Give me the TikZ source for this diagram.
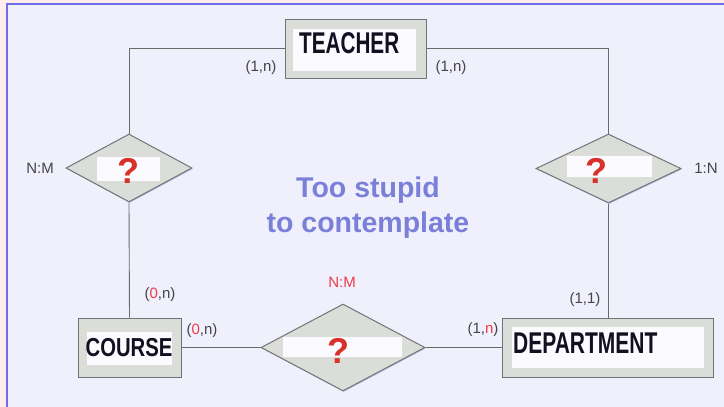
\documentclass[tikz,border=0pt]{standalone}
\usepackage{fontspec}
\setmainfont{Liberation Sans}
\usetikzlibrary{shapes.geometric,shadows}
\definecolor{bgpink}{HTML}{FDEDED}
\definecolor{bglav}{HTML}{F0F0FD}
\definecolor{bgblue}{HTML}{6E6EE6}
\definecolor{boxfill}{HTML}{DADDD8}
\definecolor{boxline}{HTML}{747474}
\definecolor{linegray}{HTML}{6A6A6A}
\definecolor{labgray}{HTML}{444444}
\definecolor{qred}{HTML}{D9302A}
\definecolor{cardred}{HTML}{F03A48}
\definecolor{slogan}{HTML}{7A80D8}
\definecolor{innerw}{HTML}{FAFAFF}
\definecolor{entink}{HTML}{101020}
\definecolor{shadowc}{HTML}{9EA6DA}
\begin{document}
\begin{tikzpicture}[x=1pt,y=-1pt,
  entity/.style={draw=boxline, line width=1pt, fill=boxfill, inner sep=0pt,
    drop shadow={shadow xshift=1.3pt, shadow yshift=-1.3pt, fill=shadowc, opacity=0.7}},
  rel/.style={diamond, draw=boxline, line width=1pt, fill=boxfill, inner sep=0pt,
    drop shadow={shadow xshift=0.8pt, shadow yshift=-1pt, fill=shadowc, opacity=0.7}},
  whitebox/.style={fill=innerw, inner sep=0pt},
  etext/.style={inner sep=0pt, text=entink, font=\bfseries\fontsize{30}{30}\selectfont},
  qmark/.style={inner sep=0pt, text=qred, font=\bfseries\fontsize{36}{36}\selectfont},
  card/.style={inner sep=0pt, text=labgray, font=\fontsize{15}{15}\selectfont},
  conn/.style={draw=linegray, line width=0.9pt},
  slogantext/.style={inner sep=0pt, text=slogan, align=center,
    font=\bfseries\fontsize{28.5}{35}\selectfont}
]
\useasboundingbox (0,0) rectangle (724,407);
\fill[bgpink] (0,0) rectangle (724,407);
\fill[bglav] (6,4) rectangle (724,407);
\draw[bgblue, line width=1.8pt] (6.7,407) -- (6.7,4.2) -- (724,4.2);

% entities
\node[entity, minimum width=141pt, minimum height=59pt] (teacher) at (355.5,48.5) {};
\node[whitebox, minimum width=123pt, minimum height=42pt] (teacherw) at (354.5,50) {};
\node[etext, anchor=west] (teachert) at (299,43) {\scalebox{0.69}[1]{TEACHER}};

\node[entity, minimum width=103pt, minimum height=59pt] (course) at (129.5,347.5) {};
\node[whitebox, minimum width=85pt, minimum height=33pt] (coursew) at (129.5,348.5) {};
\node[etext] (courset) at (129,348) {\scalebox{0.78}[1]{\fontsize{26}{26}\selectfont COURSE}};

\node[entity, minimum width=211pt, minimum height=59pt] (dept) at (607.5,347.5) {};
\node[whitebox, minimum width=192pt, minimum height=41pt] (deptw) at (608,347.5) {};
\node[etext, anchor=west] (deptt) at (513,343) {\scalebox{0.70}[1]{DEPARTMENT}};

% relationships
\node[rel, minimum width=126pt, minimum height=68pt] (r1) at (129,168) {};
\node[whitebox, minimum width=63pt, minimum height=24pt] (r1w) at (128.5,169) {};
\node[qmark] (r1q) at (128,170.5) {?};

\node[rel, minimum width=145pt, minimum height=69pt] (r2) at (608.5,168.5) {};
\node[whitebox, minimum width=85pt, minimum height=21pt] (r2w) at (609.5,166.5) {};
\node[qmark] (r2q) at (596,170.5) {?};

\node[rel, minimum width=164pt, minimum height=87pt] (r3) at (343,347.5) {};
\node[whitebox, minimum width=119pt, minimum height=20pt] (r3w) at (342.5,347) {};
\node[qmark] (r3q) at (338,351) {?};

% connectors
\draw[conn] (teacher.west) -| (r1.north);
\draw[conn] (teacher.east) -| (r2.north);
\draw[conn] (r1.south) -- (course.north);
\draw[conn] (r2.south) -- (r2.south |- dept.north);
\draw[conn] (course.east) -- (r3.west);
\draw[conn] (r3.east) -- (dept.west);

% cardinalities
\node[card] (c1) at (261,68) {(1,n)};
\node[card] (c2) at (451,68) {(1,n)};
\node[card] (c3) at (160,295) {(\textcolor{cardred}{0},n)};
\node[card] (c4) at (202,331) {(\textcolor{cardred}{0},n)};
\node[card] (c5) at (585,300) {(1,1)};
\node[card] (c6) at (483,330) {(1,\textcolor{cardred}{n})};
\node[card] (t1) at (40,168) {N:M};
\node[card] (t2) at (706,168) {1:N};
\node[card, text=cardred] (t3) at (342,282) {N:M};

\node[slogantext] (slogan) at (368,207.5) {Too stupid\\to contemplate};
\end{tikzpicture}
\end{document}
